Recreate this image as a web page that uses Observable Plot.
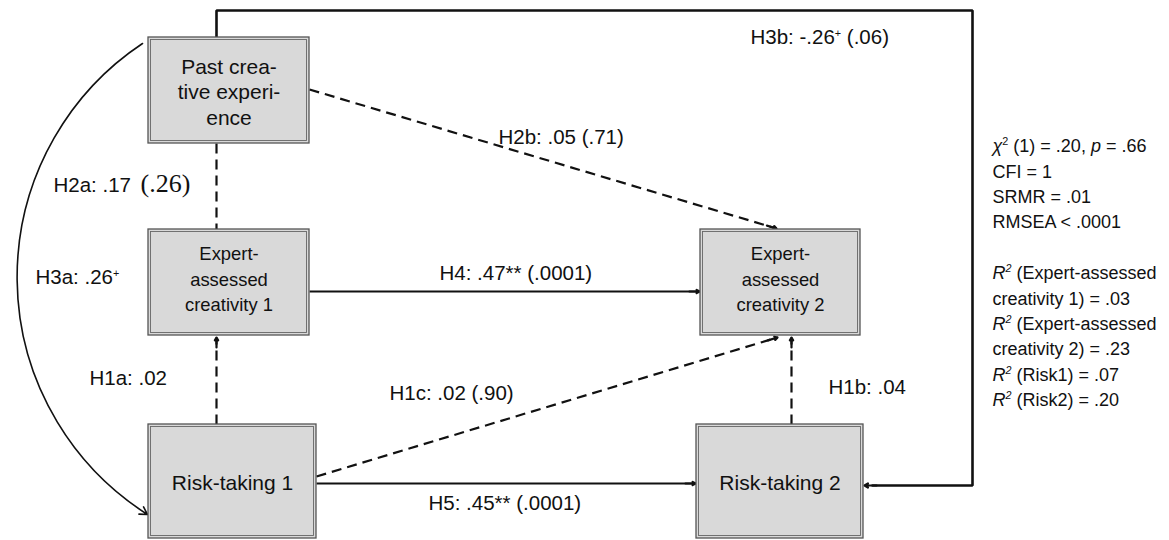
<!DOCTYPE html>
<html><head><meta charset="utf-8">
<script src="https://cdn.jsdelivr.net/npm/d3@7"></script>
<script src="https://cdn.jsdelivr.net/npm/@observablehq/plot@0.6"></script>
<style>html,body{margin:0;padding:0;background:#fff;} #chart svg{display:block}</style>
</head><body><div id="chart"></div>
<script>
// ---------- DATA ----------
const nodeIds    = ["past", "exp1", "exp2", "risk1", "risk2"];
const nodeLabels = ["Past crea-\ntive experi-\nence", "Expert-\nassessed\ncreativity 1", "Expert-\nassessed\ncreativity 2", "Risk-taking 1", "Risk-taking 2"];

const pathIds   = ["H1a", "H1b", "H1c", "H2a", "H2b", "H3a", "H3b", "H4", "H5"];
const pathFrom  = ["risk1", "risk2", "risk1", "past", "past", "past", "past", "exp1", "risk1"];
const pathTo    = ["exp1", "exp2", "exp2", "exp1", "exp2", "risk1", "risk2", "exp2", "risk2"];
const pathBeta  = [".02", ".04", ".02", ".17", ".05", ".26", "-.26", ".47", ".45"];
const pathStars = ["", "", "", "", "", "+", "+", "**", "**"];
const pathP     = [null, null, ".90", ".26", ".71", null, ".06", ".0001", ".0001"];
const pathSig   = [false, false, false, false, false, true, true, true, true];

const fitLabels = ["_χ_^2^ (1) = .20, _p_ = .66", "CFI = 1", "SRMR = .01", "RMSEA < .0001"];
const r2Names   = ["(Expert-assessed\ncreativity 1)", "(Expert-assessed\ncreativity 2)", "(Risk1)", "(Risk2)"];
const r2Values  = [".03", ".23", ".07", ".20"];

// ---------- LAYOUT (pixel space of the figure) ----------
const boxes = {past:[148,309,37,143], exp1:[148,309,229,335], exp2:[700,860,229,335], risk1:[148,316,424,538], risk2:[696,863,424,538]};
const nodeFontSize = {past:21, exp1:18.4, exp2:18.4, risk1:21, risk2:21};
const nodeLineH = {past:1.22, exp1:1.36, exp2:1.36, risk1:1, risk2:1};
const nodeTextY = {past:90.5, exp1:277, exp2:277, risk1:483, risk2:483};
const edgeGeom = {
  H1a:[216,424,216,337,true], H1b:[791,424,791,337,true], H1c:[316,476,777,337,true],
  H2a:[216,143,216,229,false], H2b:[309,89,776,228,true],
  H4:[309,291,699,291,true], H5:[316,483,695,483,true]
};
const curveGeom = [142,43,147,514,-57];
const loopX = [216,216,972,972,872];
const loopY = [37,10,10,485,485];
const labelPos = {H1a:[89,378], H1b:[828,387], H1c:[389,393], H2a:[53,185], H2b:[498,137], H3a:[35,277], H3b:[750,37], H4:[439,273], H5:[428,503]};

// ---------- BUILD ----------
const nodes = nodeIds.map((id,i)=>({id, label:nodeLabels[i], x1:boxes[id][0], x2:boxes[id][1], y1:boxes[id][2], y2:boxes[id][3]}));
const inner = nodes.map(d=>({...d, x1:d.x1+2.5, x2:d.x2-2.5, y1:d.y1+2.5, y2:d.y2-2.5}));

const paths = pathIds.map((id,i)=>({id, from:pathFrom[i], to:pathTo[i], beta:pathBeta[i], stars:pathStars[i], p:pathP[i], sig:pathSig[i]}));
const straight = paths.filter(d=>edgeGeom[d.id]).map(d=>{
  const g = edgeGeom[d.id];
  return {...d, x1:g[0], y1:g[1], x2:g[2], y2:g[3], head:g[4]};
});
const heads = straight.filter(d=>d.head).map(d=>{
  const L = Math.hypot(d.x2-d.x1, d.y2-d.y1), ux=(d.x2-d.x1)/L, uy=(d.y2-d.y1)/L;
  return {x1:d.x2-ux*10, y1:d.y2-uy*10, x2:d.x2, y2:d.y2};
});
const loop = loopX.map((x,i)=>({x, y:loopY[i]}));
const loopHead = [{x1:loopX[4]+4, y1:loopY[4], x2:864, y2:loopY[4]}];

function labelText(d){
  const sup = d.stars === "+" ? "^+^" : d.stars;
  let t = `${d.id}: ${d.beta}${sup}`;
  if (d.p && d.id !== "H2a") t += ` (${d.p})`;
  return t;
}
const labels = paths.map(d=>({text:labelText(d), x:labelPos[d.id][0], y:labelPos[d.id][1]}));
const serifLabel = paths.filter(d=>d.id==="H2a").map(d=>({text:`(${d.p})`, x:140, y:183.5}));

const statRows = [];
fitLabels.forEach((t,i)=>statRows.push({text:t, row:i}));
let row = 5;
r2Names.forEach((n,i)=>{
  const parts = n.split("\n");
  if (parts.length === 2) {
    statRows.push({text:`%R%^2^ ${parts[0]}`, row:row++});
    statRows.push({text:`${parts[1]} = ${r2Values[i]}`, row:row++});
  } else {
    statRows.push({text:`%R%^2^ ${parts[0]} = ${r2Values[i]}`, row:row++});
  }
});
statRows.forEach(d=>{d.x = 992; d.y = 146 + d.row*25.4;});

const SANS = "Liberation Sans, Arial, Helvetica, sans-serif";

const plot = Plot.plot({
  width: 1169, height: 540,
  marginTop:0, marginBottom:0, marginLeft:0, marginRight:0,
  x: {domain:[0,1169], range:[0,1169], axis:null},
  y: {domain:[0,540], range:[0,540], axis:null},
  style: {fontFamily: SANS, background:"white", color:"#111"},
  marks: [
    // loop H3b
    Plot.line(loop, {x:"x", y:"y", stroke:"#111", strokeWidth:2.6, strokeLinejoin:"miter"}),
    Plot.arrow(loopHead, {x1:"x1", y1:"y1", x2:"x2", y2:"y2", stroke:"#111", strokeWidth:2.2, headLength:8}),
    // curve H3a
    Plot.arrow([curveGeom], {x1:d=>d[0], y1:d=>d[1], x2:d=>d[2], y2:d=>d[3], bend:curveGeom[4], stroke:"#111", strokeWidth:1.6, headLength:8}),
    // straight paths: solid = significant, dashed = not significant
    Plot.link(straight.filter(d=>d.sig), {x1:"x1", y1:"y1", x2:"x2", y2:"y2", stroke:"#111", strokeWidth:2.2}),
    Plot.link(straight.filter(d=>!d.sig), {x1:"x1", y1:"y1", x2:"x2", y2:"y2", stroke:"#111", strokeWidth:2.2, strokeDasharray:"10,6"}),
    Plot.arrow(heads, {x1:"x1", y1:"y1", x2:"x2", y2:"y2", stroke:"#111", strokeWidth:2.2, headLength:8}),
    // boxes
    Plot.rect(nodes, {x1:"x1", x2:"x2", y1:"y1", y2:"y2", fill:"#d9d9d9", stroke:"#555", strokeWidth:1.3}),
    Plot.rect(inner, {x1:"x1", x2:"x2", y1:"y1", y2:"y2", fill:"none", stroke:"#666", strokeWidth:0.9}),
    ...nodes.map(d => Plot.text([d], {x:d=>(d.x1+d.x2)/2, y:d=>nodeTextY[d.id], text:"label",
      fontSize:nodeFontSize[d.id], lineHeight:nodeLineH[d.id], fill:"#111", fontFamily:SANS})),
    // path labels
    Plot.text(labels, {x:"x", y:"y", text:"text", textAnchor:"start", fontSize:20.5, fill:"#111", fontFamily:SANS}),
    Plot.text(serifLabel, {x:"x", y:"y", text:"text", textAnchor:"start", fontSize:26, fill:"#111", fontFamily:"Liberation Serif, Times New Roman, serif"}),
    // fit statistics
    Plot.text(statRows, {x:"x", y:"y", text:"text", textAnchor:"start", fontSize:18, fill:"#111", fontFamily:SANS})
  ]
});

// rich text: _italic_, ^superscript^, %italic%
d3.select(plot).selectAll("text").each(function(){
  const t = this.textContent;
  if (!/[\^_%]/.test(t) || this.querySelector("tspan")) return;
  const fs = parseFloat(getComputedStyle(this).fontSize) || parseFloat(this.getAttribute("font-size")) || 18;
  const parts = t.split(/(\^[^\^]*\^|_[^_]*_|%[^%]*%)/).filter(s=>s);
  const sel = d3.select(this); sel.text(null);
  let raised = false; let prevItalic = false;
  for (const p of parts) {
    if (p[0] === "^") {
      sel.append("tspan").attr("dy", -fs*0.38).attr("font-size", fs*0.6).attr("font-style", prevItalic ? "italic" : null).text(p.slice(1,-1));
      raised = true;
    } else {
      const ts = sel.append("tspan");
      if (raised) { ts.attr("dy", fs*0.38); raised = false; }
      if (p[0] === "_" || p[0] === "%") { ts.attr("font-style","italic").text(p.slice(1,-1)); prevItalic = p[0] === "%"; }
      else { ts.text(p); prevItalic = false; }
    }
  }
});
document.getElementById("chart").appendChild(plot);
</script></body></html>
